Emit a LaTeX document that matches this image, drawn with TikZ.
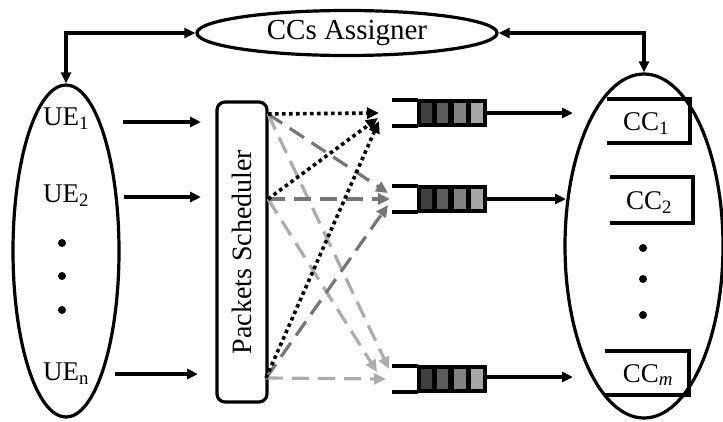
\documentclass[tikz,border=0pt]{standalone}
\usepackage{fontspec}
\setmainfont{Liberation Serif}
\usetikzlibrary{arrows.meta,shapes.geometric}

\definecolor{darkg}{RGB}{118,118,118}
\definecolor{lightg}{RGB}{172,172,172}
\definecolor{cellA}{RGB}{64,64,64}
\definecolor{cellB}{RGB}{92,92,92}
\definecolor{cellC}{RGB}{130,130,130}
\definecolor{cellD}{RGB}{166,166,166}

\tikzset{
  tip/.style={-{Triangle[length=11pt,width=10pt]}},
  dtip/.style={{Triangle[length=11pt,width=10pt]}-{Triangle[length=11pt,width=10pt]}},
  solidline/.style={line width=3.2pt, black},
  outline/.style={draw, line width=3.2pt},
  dotline/.style={line width=3.6pt, black, dash pattern=on 3.6pt off 3.4pt,
                  -{Triangle[length=12pt,width=11pt]}},
  dkdash/.style={line width=3.2pt, darkg, dash pattern=on 17pt off 9pt,
                 -{Triangle[length=12pt,width=11pt]}},
  ltdash/.style={line width=3.2pt, lightg, dash pattern=on 17pt off 9pt,
                 -{Triangle[length=12pt,width=11pt]}},
  lbl/.style={inner sep=0pt, font=\fontsize{27}{30}\selectfont},
  dotmark/.style={circle, fill=black, inner sep=0pt, minimum size=8pt},
}

% queue: open entry lines, outer frame and four shaded cells
\newcommand{\queuebox}[2]{%
  \draw[line width=3.2pt] (392,#1-13) -- (418,#1-13);
  \draw[line width=3.2pt] (392,#1+13) -- (418,#1+13);
  \node[draw, line width=2.4pt, fill=black, minimum width=68pt, minimum height=26pt,
        inner sep=0pt] (#2) at (452,#1) {};
  \fill[cellA] (421,#1-10) rectangle (432,#1+10);
  \fill[cellB] (437,#1-10) rectangle (448,#1+10);
  \fill[cellC] (454,#1-10) rectangle (466,#1+10);
  \fill[cellD] (471,#1-10) rectangle (483,#1+10);
}

% carrier box drawn as a bracket open on the left
\newcommand{\ccbox}[4]{%
  \draw[line width=3.2pt] (#1,#3) -- (#2,#3) -- (#2,#4) -- (#1,#4);
}

\begin{document}
\begin{tikzpicture}[x=1pt,y=-1pt]
\useasboundingbox (0,0) rectangle (723,421);

% main blocks
\node[ellipse, outline, minimum width=300pt, minimum height=45pt, inner sep=0pt,
      font=\fontsize{29}{32}\selectfont] (asg) at (347,33) {CCs Assigner};
\node[ellipse, outline, minimum width=106pt, minimum height=332pt] (ue) at (66,251) {};
\node[ellipse, outline, minimum width=158pt, minimum height=344pt] (cc) at (644,246) {};
\node[draw, line width=3.2pt, rounded corners=8pt, minimum width=50pt,
      minimum height=300pt] (sch) at (242,252) {};
\node[rotate=90, inner sep=0pt, font=\fontsize{28}{30}\selectfont] (schtxt)
      at (242,252) {Packets Scheduler};

% assigner links
\draw[solidline, dtip] (asg.west) -| (ue.north);
\draw[solidline, dtip] (asg.east) -| (cc.north);

% users
\node[lbl] (ue1) at (66,119) {UE\textsubscript{1}};
\node[lbl] (ue2) at (66,196) {UE\textsubscript{2}};
\node[lbl] (uen) at (66,374) {UE\textsubscript{n}};
\node[dotmark] (ud1) at (62,243) {};
\node[dotmark] (ud2) at (62,276) {};
\node[dotmark] (ud3) at (62,310) {};

\coordinate (a1s) at (123,122); \coordinate (a1e) at (201,122);
\coordinate (a2s) at (124,197); \coordinate (a2e) at (201,197);
\coordinate (a3s) at (115,374); \coordinate (a3e) at (198,374);
\draw[solidline, tip] (a1s) -- (a1e);
\draw[solidline, tip] (a2s) -- (a2e);
\draw[solidline, tip] (a3s) -- (a3e);

% queues
\queuebox{113}{q1}
\queuebox{199}{q2}
\queuebox{379}{q3}

\coordinate (c1) at (573,113);
\coordinate (c2) at (566,199);
\coordinate (c3) at (573,377);
\draw[solidline, tip] (q1.east) -- (c1);
\draw[solidline, tip] (q2.east) -- (c2);
\draw[solidline, tip] (q3.east |- c3) -- (c3);

% scheduler outputs
\coordinate (s1) at (268,114);
\coordinate (s2) at (268,199);
\coordinate (s3) at (266,378);

\coordinate (t1a) at (379,113);
\coordinate (t1b) at (378,118);
\coordinate (t1c) at (379,121);
\coordinate (t2a) at (388,193);
\coordinate (t2b) at (390,199);
\coordinate (t2c) at (388,205);
\coordinate (t3a) at (389,369);
\coordinate (t3b) at (377,372);
\coordinate (t3c) at (386,379);

\draw[ltdash] (s1) -- (t3a);
\draw[ltdash] (s2) -- (t3b);
\draw[ltdash] (s3) -- (t3c);
\draw[dkdash] (s1) -- (t2a);
\draw[dkdash] (s2) -- (t2b);
\draw[dkdash] (s3) -- (t2c);
\draw[dotline] (s1) -- (t1a);
\draw[dotline] (s2) -- (t1b);
\draw[dotline] (s3) -- (t1c);

% carriers
\ccbox{607}{690}{99}{143}
\ccbox{610}{693}{177}{223}
\ccbox{605}{689}{351}{395}
\node[lbl] (cc1) at (646,124) {CC\textsubscript{1}};
\node[lbl] (cc2) at (649,203) {CC\textsubscript{2}};
\node[lbl] (ccm) at (648,375) {CC\textsubscript{\textit{m}}};
\node[dotmark] (cd1) at (643,248) {};
\node[dotmark] (cd2) at (643,279) {};
\node[dotmark] (cd3) at (643,315) {};
\end{tikzpicture}
\end{document}
